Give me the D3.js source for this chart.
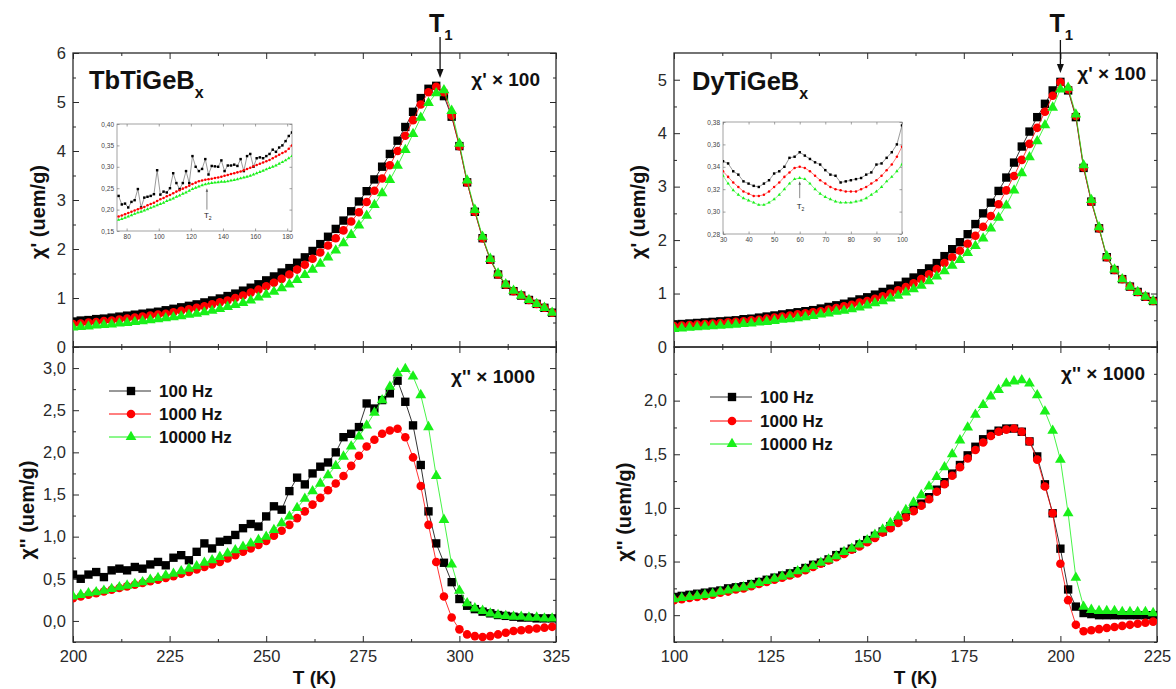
<!DOCTYPE html>
<html><head><meta charset="utf-8">
<script src="https://cdn.jsdelivr.net/npm/d3@7"></script>
<style>body{margin:0;background:#fff}svg{display:block}text{font-family:"Liberation Sans",Arial,sans-serif}</style>
</head><body><svg id="c" width="1176" height="689"></svg>
<script>
// ---------------- DATA ----------------
const seriesNames = ["100 Hz", "1000 Hz", "10000 Hz"];
const T_left = [200,202,204,206,208,210,212,214,216,218,220,222,224,226,228,230,232,234,236,238,240,242,244,246,248,250,252,254,256,258,260,262,264,266,268,270,272,274,276,278,280,282,284,286,288,290,292,294,296,298,300,302,304,306,308,310,312,314,316,318,320,322,324];
const T_right = [100,102,104,106,108,110,112,114,116,118,120,122,124,126,128,130,132,134,136,138,140,142,144,146,148,150,152,154,156,158,160,162,164,166,168,170,172,174,176,178,180,182,184,186,188,190,192,194,196,198,200,202,204,206,208,210,212,214,216,218,220,222,224];

// TbTiGeBx chi' x100
const tb_re_100 = [0.52,0.54,0.55,0.57,0.58,0.60,0.62,0.64,0.66,0.68,0.70,0.72,0.75,0.78,0.81,0.84,0.87,0.91,0.95,0.99,1.04,1.09,1.15,1.21,1.28,1.36,1.44,1.52,1.61,1.72,1.83,1.96,2.10,2.25,2.41,2.58,2.77,2.97,3.18,3.42,3.68,3.94,4.21,4.49,4.80,5.08,5.27,5.33,5.12,4.70,4.10,3.36,2.76,2.22,1.78,1.48,1.27,1.14,1.05,0.96,0.88,0.80,0.70];
const tb_re_1000 = [0.47,0.48,0.50,0.51,0.53,0.54,0.56,0.58,0.60,0.62,0.64,0.66,0.68,0.71,0.74,0.77,0.80,0.83,0.87,0.91,0.95,1.00,1.05,1.11,1.17,1.24,1.31,1.39,1.48,1.58,1.68,1.80,1.93,2.07,2.22,2.38,2.56,2.75,2.96,3.19,3.44,3.71,4.00,4.31,4.63,4.95,5.20,5.31,5.20,4.72,4.10,3.36,2.76,2.22,1.78,1.48,1.27,1.14,1.05,0.96,0.88,0.80,0.70];
const tb_re_10000 = [0.40,0.41,0.42,0.44,0.45,0.46,0.48,0.49,0.51,0.53,0.55,0.57,0.59,0.61,0.63,0.66,0.68,0.71,0.74,0.78,0.82,0.86,0.90,0.95,1.01,1.07,1.13,1.20,1.28,1.37,1.47,1.58,1.70,1.83,1.97,2.12,2.29,2.48,2.68,2.90,3.14,3.41,3.70,4.02,4.35,4.68,4.98,5.18,5.24,4.82,4.15,3.40,2.80,2.25,1.80,1.50,1.28,1.15,1.05,0.96,0.88,0.80,0.70];
// TbTiGeBx chi'' x1000
const tb_im_100 = [0.55,0.50,0.55,0.58,0.52,0.60,0.62,0.60,0.64,0.62,0.67,0.70,0.66,0.75,0.78,0.72,0.82,0.92,0.86,0.94,0.96,1.02,1.10,1.15,1.12,1.24,1.36,1.32,1.54,1.70,1.62,1.75,1.83,1.88,2.00,2.18,2.22,2.30,2.58,2.52,2.62,2.70,2.85,2.60,2.32,1.85,1.30,0.92,0.69,0.46,0.26,0.18,0.14,0.11,0.09,0.07,0.06,0.05,0.04,0.04,0.03,0.03,0.03];
const tb_im_1000 = [0.27,0.29,0.31,0.33,0.35,0.37,0.39,0.41,0.43,0.45,0.47,0.49,0.51,0.53,0.56,0.58,0.61,0.64,0.67,0.70,0.74,0.78,0.82,0.86,0.90,0.95,1.01,1.07,1.14,1.22,1.30,1.38,1.46,1.55,1.63,1.72,1.84,1.96,2.07,2.15,2.22,2.26,2.28,2.18,1.94,1.60,1.14,0.70,0.29,0.04,-0.10,-0.16,-0.18,-0.19,-0.18,-0.16,-0.14,-0.12,-0.11,-0.10,-0.09,-0.08,-0.07];
const tb_im_10000 = [0.29,0.31,0.33,0.34,0.36,0.38,0.40,0.42,0.44,0.46,0.49,0.51,0.54,0.56,0.59,0.62,0.65,0.69,0.72,0.76,0.80,0.84,0.88,0.92,0.96,1.00,1.08,1.16,1.24,1.34,1.45,1.54,1.63,1.73,1.84,1.95,2.07,2.19,2.32,2.47,2.62,2.78,2.94,2.99,2.90,2.68,2.30,1.72,1.20,0.67,0.36,0.21,0.15,0.12,0.09,0.07,0.06,0.05,0.05,0.04,0.04,0.03,0.03];

// DyTiGeBx chi' x100
const dy_re_100 = [0.42,0.43,0.44,0.45,0.46,0.47,0.48,0.49,0.50,0.52,0.53,0.55,0.57,0.59,0.61,0.63,0.65,0.67,0.69,0.72,0.75,0.78,0.81,0.85,0.89,0.93,0.98,1.03,1.09,1.15,1.22,1.30,1.38,1.47,1.57,1.70,1.83,1.96,2.11,2.30,2.50,2.70,2.92,3.17,3.45,3.75,4.03,4.30,4.55,4.80,4.96,4.80,4.30,3.35,2.72,2.22,1.68,1.44,1.27,1.13,1.03,0.94,0.86];
const dy_re_1000 = [0.39,0.40,0.41,0.42,0.43,0.44,0.45,0.46,0.47,0.48,0.50,0.51,0.53,0.55,0.57,0.59,0.61,0.63,0.65,0.67,0.70,0.73,0.76,0.79,0.83,0.86,0.90,0.95,1.00,1.06,1.12,1.19,1.27,1.36,1.46,1.57,1.68,1.80,1.93,2.08,2.25,2.45,2.67,2.93,3.20,3.50,3.80,4.10,4.40,4.70,4.95,4.82,4.32,3.36,2.72,2.22,1.68,1.44,1.27,1.13,1.03,0.94,0.86];
const dy_re_10000 = [0.34,0.35,0.36,0.37,0.38,0.39,0.40,0.41,0.42,0.43,0.44,0.46,0.47,0.49,0.51,0.52,0.54,0.56,0.58,0.61,0.63,0.66,0.68,0.71,0.74,0.78,0.82,0.86,0.91,0.96,1.02,1.08,1.15,1.23,1.32,1.42,1.52,1.63,1.76,1.89,2.03,2.22,2.42,2.65,2.93,3.25,3.55,3.85,4.15,4.48,4.82,4.85,4.35,3.40,2.75,2.24,1.70,1.45,1.27,1.13,1.03,0.94,0.86];
// DyTiGeBx chi'' x1000
const dy_im_100 = [0.17,0.18,0.19,0.20,0.21,0.22,0.23,0.25,0.26,0.27,0.29,0.31,0.33,0.35,0.37,0.39,0.41,0.44,0.47,0.49,0.52,0.56,0.59,0.62,0.66,0.70,0.74,0.78,0.83,0.88,0.93,0.99,1.04,1.10,1.17,1.24,1.32,1.40,1.49,1.57,1.64,1.69,1.72,1.74,1.74,1.71,1.62,1.48,1.22,0.95,0.62,0.24,0.08,0.02,0.01,0.00,0.00,0.00,0.00,0.00,0.00,0.00,0.00];
const dy_im_1000 = [0.14,0.15,0.16,0.17,0.18,0.19,0.21,0.22,0.24,0.25,0.27,0.29,0.31,0.33,0.35,0.37,0.39,0.42,0.45,0.48,0.51,0.54,0.57,0.61,0.64,0.68,0.72,0.77,0.81,0.86,0.91,0.97,1.02,1.08,1.15,1.22,1.30,1.38,1.46,1.54,1.61,1.67,1.71,1.73,1.74,1.71,1.62,1.45,1.20,0.95,0.48,0.14,-0.09,-0.15,-0.14,-0.13,-0.12,-0.11,-0.10,-0.09,-0.08,-0.07,-0.06];
const dy_im_10000 = [0.15,0.16,0.17,0.18,0.19,0.20,0.22,0.23,0.25,0.26,0.28,0.30,0.32,0.34,0.36,0.38,0.41,0.43,0.46,0.49,0.52,0.55,0.59,0.62,0.66,0.70,0.75,0.80,0.86,0.92,0.98,1.05,1.12,1.20,1.29,1.38,1.50,1.63,1.75,1.87,1.96,2.04,2.10,2.16,2.18,2.19,2.16,2.05,1.90,1.72,1.45,0.95,0.35,0.08,0.05,0.04,0.04,0.04,0.03,0.03,0.03,0.03,0.02];

// insets
const T_insetTb = [75,77,79,81,83,85,87,89,91,93,95,97,99,101,103,105,107,109,111,113,115,117,119,121,123,125,127,129,131,133,135,137,139,141,143,145,147,149,151,153,155,157,159,161,163,165,167,169,171,173,175,177,179,181,183];
const insetTb_100 = [0.232,0.212,0.214,0.205,0.218,0.222,0.248,0.205,0.228,0.230,0.232,0.236,0.292,0.235,0.242,0.240,0.250,0.285,0.262,0.248,0.262,0.290,0.262,0.325,0.300,0.290,0.295,0.318,0.282,0.302,0.301,0.300,0.315,0.290,0.303,0.303,0.305,0.302,0.318,0.290,0.325,0.330,0.300,0.320,0.322,0.320,0.325,0.330,0.340,0.335,0.345,0.350,0.360,0.372,0.380];
const insetTb_1000 = [0.184,0.186,0.189,0.192,0.195,0.198,0.201,0.203,0.206,0.210,0.213,0.216,0.220,0.224,0.227,0.231,0.234,0.238,0.242,0.245,0.249,0.252,0.256,0.260,0.263,0.266,0.268,0.270,0.271,0.272,0.274,0.275,0.277,0.279,0.281,0.283,0.285,0.287,0.289,0.292,0.295,0.298,0.301,0.304,0.307,0.310,0.313,0.316,0.320,0.324,0.328,0.332,0.336,0.342,0.350];
const insetTb_10000 = [0.176,0.178,0.181,0.184,0.187,0.190,0.193,0.195,0.198,0.201,0.204,0.207,0.210,0.213,0.216,0.220,0.223,0.226,0.230,0.233,0.237,0.240,0.244,0.248,0.251,0.254,0.257,0.259,0.261,0.262,0.263,0.264,0.265,0.265,0.266,0.268,0.269,0.271,0.273,0.275,0.277,0.279,0.282,0.285,0.288,0.291,0.294,0.297,0.300,0.303,0.307,0.311,0.315,0.320,0.325];
const T_insetDy = [30,32,34,36,38,40,42,44,46,48,50,52,54,56,58,60,62,64,66,68,70,72,74,76,78,80,82,84,86,88,90,92,94,96,98,100];
const insetDy_100 = [0.345,0.343,0.336,0.333,0.327,0.325,0.323,0.322,0.325,0.328,0.334,0.336,0.340,0.348,0.349,0.353,0.350,0.347,0.344,0.342,0.337,0.333,0.332,0.326,0.327,0.328,0.329,0.330,0.333,0.335,0.342,0.343,0.348,0.353,0.360,0.377];
const insetDy_1000 = [0.336,0.331,0.326,0.322,0.318,0.316,0.314,0.314,0.315,0.318,0.322,0.326,0.331,0.335,0.339,0.340,0.339,0.336,0.332,0.328,0.325,0.322,0.320,0.319,0.318,0.318,0.318,0.320,0.322,0.325,0.328,0.332,0.337,0.342,0.349,0.358];
const insetDy_10000 = [0.332,0.325,0.319,0.315,0.312,0.310,0.308,0.306,0.306,0.308,0.311,0.315,0.320,0.325,0.329,0.330,0.329,0.325,0.320,0.316,0.313,0.311,0.309,0.308,0.308,0.308,0.309,0.310,0.312,0.315,0.318,0.322,0.327,0.331,0.336,0.342];

// tick values
const xTicksLeft = [200,225,250,275,300,325];
const xTicksRight = [100,125,150,175,200,225];
const yTicksReTb = [0,1,2,3,4,5,6];
const yTicksReDy = [0,1,2,3,4,5];
const yTicksImTb = [0,0.5,1,1.5,2,2.5,3];
const yTicksImDy = [0,0.5,1,1.5,2];
const insetTbX = [80,100,120,140,160,180];
const insetTbY = [0.15,0.20,0.25,0.30,0.35,0.40];
const insetDyX = [30,40,50,60,70,80,90,100];
const insetDyY = [0.28,0.30,0.32,0.34,0.36,0.38];
const T1 = [295, 200];
const T2 = [130, 60];

// ---------------- STYLE / LAYOUT ----------------
const colors = ["#000000", "#ff0000", "#19f019"];
const shapes = [d3.symbolSquare, d3.symbolCircle, d3.symbolTriangle];
const msize = [70, 58, 50];
const svg = d3.select("#c");
const comma = dec => d => d.toFixed(dec).replace(".", ",");
let clipN = 0;

function frameAxes(g, x, y, o) {
  const {x0, x1, y0, y1} = o;
  const tl = o.tickLen, ml = o.minorLen;
  const b = g.append("g").attr("transform", `translate(0,${y1})`)
    .call(d3.axisBottom(x).tickValues(o.xTicks).tickSize(-tl).tickSizeOuter(0).tickPadding(o.xPad)
      .tickFormat(o.xLabels ? (o.xFmt || d3.format("d")) : ""));
  const t = g.append("g").attr("transform", `translate(0,${y0})`)
    .call(d3.axisTop(x).tickValues(o.xTicks).tickSize(-tl).tickSizeOuter(0).tickFormat(""));
  const l = g.append("g").attr("transform", `translate(${x0},0)`)
    .call(d3.axisLeft(y).tickValues(o.yTicks).tickSize(-tl).tickSizeOuter(0).tickPadding(o.yPad).tickFormat(o.yFmt));
  const r = g.append("g").attr("transform", `translate(${x1},0)`)
    .call(d3.axisRight(y).tickValues(o.yTicks).tickSize(-tl).tickSizeOuter(0).tickFormat(""));
  const axes = [b, t, l, r];
  if (o.xMinor) {
    axes.push(g.append("g").attr("transform", `translate(0,${y1})`).call(d3.axisBottom(x).tickValues(o.xMinor).tickSize(-ml).tickSizeOuter(0).tickFormat("")));
    axes.push(g.append("g").attr("transform", `translate(0,${y0})`).call(d3.axisTop(x).tickValues(o.xMinor).tickSize(-ml).tickSizeOuter(0).tickFormat("")));
  }
  if (o.yMinor) {
    axes.push(g.append("g").attr("transform", `translate(${x0},0)`).call(d3.axisLeft(y).tickValues(o.yMinor).tickSize(-ml).tickSizeOuter(0).tickFormat("")));
    axes.push(g.append("g").attr("transform", `translate(${x1},0)`).call(d3.axisRight(y).tickValues(o.yMinor).tickSize(-ml).tickSizeOuter(0).tickFormat("")));
  }
  axes.forEach(a => {
    a.select(".domain").remove();
    a.selectAll("line").attr("stroke", o.stroke).attr("stroke-width", o.sw);
    a.selectAll("text").attr("font-size", o.fs).attr("fill", o.txt).attr("font-family", '"Liberation Sans",Arial,sans-serif');
  });
  g.append("rect").attr("x", x0).attr("y", y0).attr("width", x1 - x0).attr("height", y1 - y0)
    .attr("fill", "none").attr("stroke", o.stroke).attr("stroke-width", o.frameW || o.sw);
}

function drawSeries(g, x, y, box, T, vals, k, sz, lw, lineCol) {
  const id = "clip" + (clipN++);
  svg.append("clipPath").attr("id", id).append("rect")
    .attr("x", box.x0).attr("y", box.y0).attr("width", box.x1 - box.x0).attr("height", box.y1 - box.y0);
  const pg = g.append("g").attr("clip-path", `url(#${id})`);
  const pts = T.map((t, i) => [t, vals[i]]);
  pg.append("path").attr("d", d3.line().x(d => x(d[0])).y(d => y(d[1]))(pts))
    .attr("fill", "none").attr("stroke", lineCol || colors[k]).attr("stroke-width", lw);
  pg.selectAll(null).data(pts).join("path")
    .attr("transform", d => `translate(${x(d[0])},${y(d[1])})`)
    .attr("d", d3.symbol().type(shapes[k]).size(sz)).attr("fill", colors[k]);
}

function boldText(g, x, y, main, sub, fs, subFs, subDy, anchor) {
  const t = g.append("text").attr("x", x).attr("y", y).attr("font-weight", "bold")
    .attr("font-size", fs).attr("fill", "#111").attr("text-anchor", anchor || "start");
  t.append("tspan").text(main);
  if (sub) t.append("tspan").attr("font-size", subFs).attr("dy", subDy).text(sub);
  return t;
}

function arrow(g, xp, ya, yb, w, hl, col, sw) {
  g.append("line").attr("x1", xp).attr("x2", xp).attr("y1", ya).attr("y2", yb - (yb > ya ? hl : -hl) * 0.8)
    .attr("stroke", col).attr("stroke-width", sw);
  const s = yb > ya ? -1 : 1;
  g.append("path").attr("d", `M${xp},${yb} L${xp - w / 2},${yb + s * hl} L${xp + w / 2},${yb + s * hl} Z`).attr("fill", col);
}

function panelPair(cfg) {
  const g = svg.append("g");
  const x = d3.scaleLinear().domain(cfg.xd).range([cfg.x0, cfg.x1]);
  const yTop = d3.scaleLinear().domain(cfg.ydTop).range([cfg.ym, cfg.yt]);
  const yBot = d3.scaleLinear().domain(cfg.ydBot).range([cfg.yb, cfg.ym]);
  const boxT = {x0: cfg.x0, x1: cfg.x1, y0: cfg.yt, y1: cfg.ym};
  const boxB = {x0: cfg.x0, x1: cfg.x1, y0: cfg.ym, y1: cfg.yb};
  const xMinor = cfg.xTicks.slice(0, -1).map(v => v + 12.5);
  const common = {tickLen: 6, minorLen: 3, stroke: "#2a2a2a", sw: 1, frameW: 1.3, fs: 16.5, txt: "#2a2a2a", xPad: 8, yPad: 7, xMinor};
  frameAxes(g, x, yTop, Object.assign({}, common, boxT, {xTicks: cfg.xTicks, xLabels: false, yTicks: cfg.yTicksTop,
    yMinor: cfg.yTicksTop.slice(0, -1).map(v => v + 0.5).concat(cfg.extraMinorTop || []), yFmt: d3.format("d")}));
  frameAxes(g, x, yBot, Object.assign({}, common, boxB, {xTicks: cfg.xTicks, xLabels: true, yTicks: cfg.yTicksBot,
    yMinor: cfg.yMinorBot, yFmt: comma(1)}));
  cfg.top.forEach((v, k) => drawSeries(g, x, yTop, boxT, cfg.T, v, k, msize[k], 0.8));
  cfg.bot.forEach((v, k) => drawSeries(g, x, yBot, boxB, cfg.T, v, k, msize[k], 0.8));

  g.append("text").attr("x", (cfg.x0 + cfg.x1) / 2).attr("y", 684).attr("text-anchor", "middle")
    .attr("font-weight", "bold").attr("font-size", 19).attr("fill", "#111").text("T (K)");
  g.append("text").attr("transform", `translate(${cfg.ylabTopX},${cfg.ylabTopY}) rotate(-90)`).attr("text-anchor", "middle")
    .attr("font-weight", "bold").attr("font-size", 20).attr("fill", "#111").text("χ' (uem/g)");
  g.append("text").attr("transform", `translate(${cfg.ylabBotX},${cfg.ylabBotY}) rotate(-90)`).attr("text-anchor", "middle")
    .attr("font-weight", "bold").attr("font-size", 20).attr("fill", "#111").text("χ'' (uem/g)");

  boldText(g, cfg.titleX, cfg.titleY, cfg.title, "x", 25.5, 16, 9);
  boldText(g, cfg.x1 - cfg.reOff, cfg.reY, "χ' × 100", null, 19, 0, 0, "end");
  boldText(g, cfg.x1 - cfg.imOff, cfg.imY, "χ'' × 1000", null, 19, 0, 0, "end");
  const xa = x(cfg.t1);
  boldText(g, xa - 11, 32, "T", "1", 25, 15, 8);
  arrow(g, xa, cfg.arrA, cfg.arrB, 7, 9, "#111", 1.3);

  cfg.legY.forEach((ly, k) => {
    const yy = cfg.ym + ly;
    g.append("line").attr("x1", cfg.x0 + 36).attr("x2", cfg.x0 + 78).attr("y1", yy).attr("y2", yy)
      .attr("stroke", k === 0 ? "#333" : colors[k]).attr("stroke-width", 1);
    g.append("path").attr("transform", `translate(${cfg.x0 + 58},${yy})`)
      .attr("d", d3.symbol().type(shapes[k]).size(msize[k])).attr("fill", colors[k]);
    g.append("text").attr("x", cfg.x0 + 86).attr("y", yy + 6).attr("font-weight", "bold")
      .attr("font-size", 17).attr("fill", "#111").text(seriesNames[k]);
  });
  return g;
}

function inset(cfg) {
  const g = svg.append("g");
  const x = d3.scaleLinear().domain(cfg.xd).range([cfg.x0, cfg.x1]);
  const y = d3.scaleLinear().domain(cfg.yd).range([cfg.y1, cfg.y0]);
  g.append("rect").attr("x", cfg.x0).attr("y", cfg.y0).attr("width", cfg.x1 - cfg.x0).attr("height", cfg.y1 - cfg.y0).attr("fill", "#fff");
  frameAxes(g, x, y, {x0: cfg.x0, x1: cfg.x1, y0: cfg.y0, y1: cfg.y1, tickLen: 2.5, minorLen: 1.5, stroke: "#7a7a7a", sw: 0.7,
    fs: 6.5, txt: "#444", xPad: 3, yPad: 3, xTicks: cfg.xTicks, xLabels: true, yTicks: cfg.yTicks, yFmt: comma(2)});
  const box = {x0: cfg.x0, x1: cfg.x1, y0: cfg.y0, y1: cfg.y1};
  cfg.series.forEach((v, k) => {
    drawSeries(g, x, y, box, cfg.T, v, k, k === 0 ? 6 : 5, k === 0 ? 0.6 : 0.5, k === 0 ? "#555" : colors[k]);
  });
  const xa = x(cfg.t2);
  arrow(g, xa, y(cfg.arrFrom), y(cfg.arrTo), 2.5, 3.5, "#555", 0.7);
  const t = g.append("text").attr("x", xa - 3).attr("y", y(cfg.labY)).attr("font-size", 8).attr("fill", "#222");
  t.append("tspan").text("T");
  t.append("tspan").attr("font-size", 5).attr("dy", 2).text("2");
}

panelPair({
  x0: 73, x1: 556, yt: 53, ym: 347, yb: 642, xd: [200, 325], T: T_left, xTicks: xTicksLeft,
  ydTop: [0, 6], yTicksTop: yTicksReTb, ydBot: [-0.25, 3.25], yTicksBot: yTicksImTb,
  yMinorBot: [-0.25, 0.25, 0.75, 1.25, 1.75, 2.25, 2.75, 3.25],
  top: [tb_re_100, tb_re_1000, tb_re_10000], bot: [tb_im_100, tb_im_1000, tb_im_10000],
  ylabTopX: 45, ylabTopY: 212, ylabBotX: 34, ylabBotY: 510,
  title: "TbTiGeB", titleX: 89, titleY: 89, reOff: 16, reY: 86, imOff: 21, imY: 383,
  t1: T1[0], arrA: 37, arrB: 78, legY: [44, 67, 90]
});
panelPair({
  x0: 674, x1: 1157, yt: 53, ym: 347, yb: 642, xd: [100, 225], T: T_right, xTicks: xTicksRight,
  ydTop: [0, 5.5], yTicksTop: yTicksReDy, extraMinorTop: [], ydBot: [-0.25, 2.5], yTicksBot: yTicksImDy,
  yMinorBot: [-0.25, 0.25, 0.75, 1.25, 1.75, 2.25],
  top: [dy_re_100, dy_re_1000, dy_re_10000], bot: [dy_im_100, dy_im_1000, dy_im_10000],
  ylabTopX: 645, ylabTopY: 212, ylabBotX: 631, ylabBotY: 512,
  title: "DyTiGeB", titleX: 692, titleY: 90, reOff: 11, reY: 80, imOff: 12, imY: 380,
  t1: T1[1], arrA: 40, arrB: 73, legY: [50, 74, 97]
});
inset({x0: 117, x1: 292, y0: 124, y1: 231, xd: [74, 183], yd: [0.15, 0.40], xTicks: insetTbX, yTicks: insetTbY,
  T: T_insetTb, series: [insetTb_100, insetTb_1000, insetTb_10000], t2: T2[0], arrFrom: 0.200, arrTo: 0.250, labY: 0.180});
inset({x0: 723, x1: 902, y0: 122, y1: 234, xd: [30, 100], yd: [0.28, 0.38], xTicks: insetDyX, yTicks: insetDyY,
  T: T_insetDy, series: [insetDy_100, insetDy_1000, insetDy_10000], t2: T2[1], arrFrom: 0.312, arrTo: 0.327, labY: 0.302});
</script></body></html>
